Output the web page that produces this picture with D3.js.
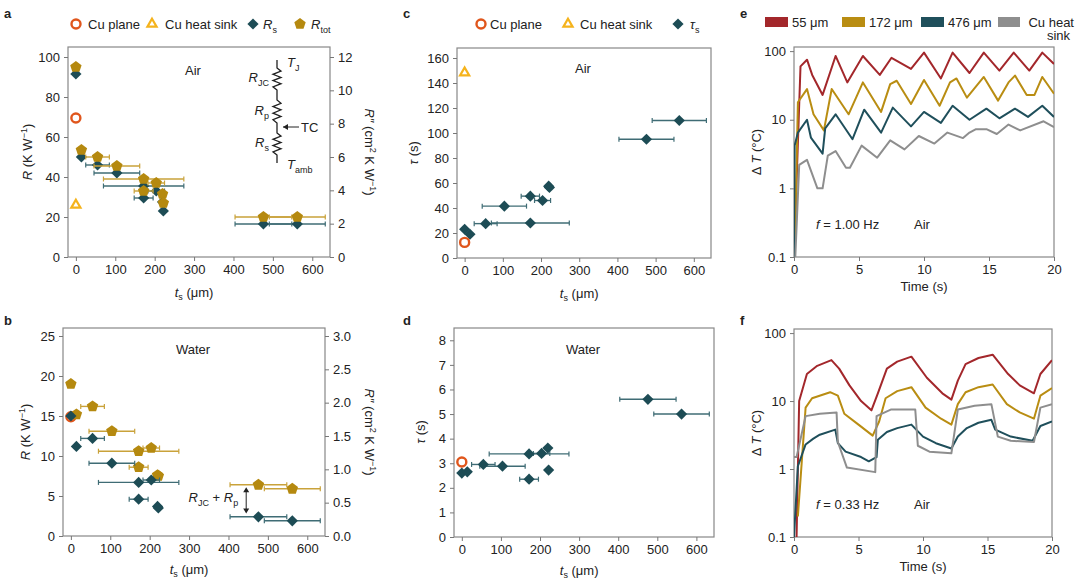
<!DOCTYPE html>
<html><head><meta charset="utf-8">
<script src="https://cdn.jsdelivr.net/npm/d3@7"></script>
<style>
body{margin:0;background:#fff;font-family:"Liberation Sans",Arial,sans-serif;}
text{font-family:"Liberation Sans",Arial,sans-serif;fill:#222;}
.axis text{font-size:13px;}
.axis path,.axis line{stroke:#777;}
</style></head>
<body><svg id="fig" width="1080" height="584"></svg>
<script>
// samples, same order in every scatter panel
const ts     = [0, 14, 55, 104, 172, 172, 204, 220, 222, 476, 562];
const tsErr  = [0, 0, 30, 58, 102, 24, 21, 0, 0, 72, 71];
const airRs  = [91.5, 50, 46, 42, 35.5, 29.5, 33, 27.5, 23, 16.5, 16.5];
const airRtot= [95, 53.5, 50, 45.5, 39, 33, 37, 31.5, 27, 20, 20];
const watRs  = [15, 11.2, 12.2, 9.1, 6.7, 4.6, 7, 3.7, 3.5, 2.4, 1.9];
const watRtot= [19, 15.2, 16.2, 13.1, 10.6, 8.6, 11, 7.6, 7.5, 6.4, 5.9];
const airTau = [23, 19, 27.5, 41.5, 28, 49.5, 46, 57.5, 56.5, 95, 110];
const watTau = [2.6, 2.65, 2.95, 2.88, 3.38, 2.35, 3.4, 3.62, 2.72, 5.6, 5.0];
const cuPlane = {airR: 69.5, watR: 14.9, airTau: 12.5, watTau: 3.05};
const cuSink  = {airR: 26.5, airTau: 149};

// transient curves [time s, dT °C]
const e55  = [[0,0.1],[0.5,60],[1,75],[1.4,45],[2.2,23],[3.2,85],[4.1,35],[5.3,85],[6.6,45],[7.5,80],[9,55],[10,95],[11.3,40],[12.2,95],[13.5,48],[14.6,95],[15.8,52],[16.9,95],[18.1,52],[19.1,95],[20,65]];
const e172 = [[0.05,0.1],[0.3,18],[1,28],[1.5,12],[2.3,7],[2.9,28],[4.2,12],[5.3,35],[6.7,13],[7.4,33],[7.9,37],[9,17],[10,38],[11.2,16],[12,35],[12.5,40],[13.3,21],[14.6,42],[15.7,19],[16.5,35],[17,44],[17.9,23],[18.5,23],[19.1,42],[20,24]];
const e476 = [[0,0.1],[0.05,4.2],[0.3,6.5],[1,10],[1.3,5.5],[2.2,3.2],[2.4,7.5],[3.2,12],[4.5,5.2],[5.4,14],[6.7,6.5],[7.6,15],[9,8],[10,13],[11.3,9],[12.2,16],[13.5,10],[14.8,14.5],[15.8,10.5],[17,14.5],[18,11],[19.1,16],[20,11]];
const eCu  = [[0.1,0.1],[0.4,2.2],[1,2.6],[1.8,1],[2.2,1],[2.6,3],[3.2,3.5],[4,2],[4.3,2],[5.2,4.2],[6.4,2.8],[7.4,5],[8.5,3.7],[9.6,5.8],[10.8,4.5],[11.8,6.5],[13,5.4],[13.5,6.5],[14,7.3],[14.8,7.3],[15.6,6.2],[16.5,8.5],[17.4,7],[19.2,9.5],[20,7.8]];
const f55  = [[0.2,0.1],[0.4,10],[1,25],[1.8,33],[2.9,40],[3.5,30],[4.3,17],[5.2,10],[6,7.3],[6.5,13],[7.2,30],[8,38],[9.1,45],[10.3,22],[11.5,13],[12.2,10.5],[12.7,20],[13.3,35],[14.3,43],[15.4,48],[16.6,25],[17.5,17],[18.6,13],[19.1,25],[20,40]];
const f172 = [[0.3,0.2],[0.9,8],[1.4,11],[2.8,13.5],[3.4,12],[3.9,6.5],[5,4.5],[6.1,3.1],[6.6,5],[7.1,11],[8,14],[9.1,16],[10.2,8],[11.4,5.5],[12.2,4.5],[12.7,9],[13.3,13.5],[14.3,16],[15.4,17.5],[16.5,9],[17.5,6.8],[18.6,5.5],[19.1,12],[20,15.5]];
const f476 = [[0,0.1],[0.3,1.1],[0.9,2.3],[1.5,2.8],[2,3.2],[3.2,3.8],[3.4,2.4],[4,1.8],[5.2,1.5],[5.8,1.3],[6.4,1.5],[6.5,2.7],[7.2,3.5],[8,4],[9.1,4.5],[10,3],[11,2.4],[12.2,2],[12.7,3],[13.4,4],[14.3,4.8],[15.3,5.3],[15.6,3.8],[16.8,3],[18.5,2.6],[19.1,4.3],[20,5]];
const fCu  = [[0,1.5],[0.2,1.5],[0.9,6],[2,6.5],[3.3,6.8],[3.4,2.5],[4.1,1.05],[6.3,0.9],[6.4,6],[7.5,7.5],[9.4,7.5],[9.6,2.2],[10.5,1.8],[12.2,1.7],[12.7,7.5],[14,8.5],[15.3,9],[15.8,3],[16.8,2.6],[18.6,2.5],[19.1,8],[20,9]];

const gold = "#b5890f", teal = "#1d4c55", goldBar = "#c9a23a", tealBar = "#3f6c75";
const orange = "#e0561c", yellow = "#f5b31c";
const lineCols = ["#a3272b", "#b98d12", "#1f4f5b", "#8e8e8e"];

const svg = d3.select("#fig");

function frame(g, w, h) {
  g.append("rect").attr("width", w).attr("height", h)
   .attr("fill", "none").attr("stroke", "#888").attr("stroke-width", 1.2);
}
function styleAxis(sel) { sel.selectAll("path.domain").remove(); sel.selectAll("line").attr("stroke", "#666"); }

function tsLabel(g, x, y) {
  const t = g.append("text").attr("x", x).attr("y", y).attr("text-anchor", "middle").style("font-size", "13px");
  t.append("tspan").attr("font-style", "italic").text("t");
  t.append("tspan").attr("dy", 3).style("font-size", "9px").text("s");
  t.append("tspan").attr("dy", -3).text(" (μm)");
}

function diamond(g, x, y, col) {
  g.append("path").attr("d", d3.symbol(d3.symbolDiamond2, 80)())
   .attr("transform", `translate(${x},${y})`).attr("fill", col);
}
function pentagon(g, x, y, col) {
  const r = 6;
  const pts = d3.range(5).map(i => { const a = -Math.PI/2 + i*2*Math.PI/5; return [x + r*Math.cos(a), y + r*Math.sin(a)]; });
  g.append("polygon").attr("points", pts.map(p => p.join(",")).join(" ")).attr("fill", col);
}
function ring(g, x, y) {
  g.append("circle").attr("cx", x).attr("cy", y).attr("r", 4.5).attr("fill", "none").attr("stroke", orange).attr("stroke-width", 2.4);
}
function tri(g, x, y) {
  g.append("path").attr("d", d3.symbol(d3.symbolTriangle2, 60)()).attr("transform", `translate(${x},${y+1})`)
   .attr("fill", "none").attr("stroke", yellow).attr("stroke-width", 2.2);
}
function errBar(g, x, ys, x0, x1, col) {
  g.append("line").attr("x1", x0).attr("x2", x1).attr("y1", ys).attr("y2", ys).attr("stroke", col).attr("stroke-width", 1.4);
  [x0, x1].forEach(xx => g.append("line").attr("x1", xx).attr("x2", xx).attr("y1", ys-2.5).attr("y2", ys+2.5).attr("stroke", col).attr("stroke-width", 1.2));
}

// generic scatter panel
function scatter(opt) {
  const g = svg.append("g").attr("transform", `translate(${opt.left},${opt.top})`);
  const w = opt.w, h = opt.h;
  const x = d3.scaleLinear().domain([-20, 645]).range([0, w]);
  const y = d3.scaleLinear().domain(opt.ydom).range([h, 0]);
  frame(g, w, h);
  g.append("g").attr("class", "axis").attr("transform", `translate(0,${h})`)
   .call(d3.axisBottom(x).tickValues(d3.range(0, 601, 100)).tickSize(4).tickPadding(4)).call(styleAxis);
  g.append("g").attr("class", "axis")
   .call(d3.axisLeft(y).tickValues(opt.yticks).tickSize(4).tickPadding(4).tickFormat(opt.yfmt || d3.format("d"))).call(styleAxis);
  if (opt.y2) {
    const y2 = d3.scaleLinear().domain(opt.ydom.map(v => v*0.12)).range([h, 0]);
    g.append("g").attr("class", "axis").attr("transform", `translate(${w},0)`)
     .call(d3.axisRight(y2).tickValues(opt.y2).tickSize(4).tickPadding(4).tickFormat(opt.y2fmt)).call(styleAxis);
  }
  tsLabel(g, x(300), h + opt.tsDy);
  g.append("text").attr("x", opt.envX).attr("y", opt.envY).attr("text-anchor", "middle").style("font-size", "13px").text(opt.env);
  return {g, x, y, w, h};
}

function seriesWithBars(p, vals, col, barCol, shape) {
  vals.forEach((v, i) => { if (tsErr[i]) errBar(p.g, p.x(ts[i]), p.y(v), p.x(ts[i]-tsErr[i]), p.x(ts[i]+tsErr[i]), barCol); });
  vals.forEach((v, i) => shape(p.g, p.x(ts[i]), p.y(v), col));
}

function rYLabel(g, x, y) {
  const t = g.append("text").attr("transform", `translate(${x},${y}) rotate(-90)`).attr("text-anchor", "middle").style("font-size", "13px");
  t.append("tspan").attr("font-style", "italic").text("R");
  t.append("tspan").text(" (K W");
  t.append("tspan").attr("dy", -5).style("font-size", "9px").text("−1");
  t.append("tspan").attr("dy", 5).text(")");
}
function r2YLabel(g, x, y) {
  const t = g.append("text").attr("transform", `translate(${x},${y}) rotate(90)`).attr("text-anchor", "middle").style("font-size", "13px");
  t.append("tspan").attr("font-style", "italic").text("R″");
  t.append("tspan").text(" (cm");
  t.append("tspan").attr("dy", -5).style("font-size", "9px").text("2");
  t.append("tspan").attr("dy", 5).text(" K W");
  t.append("tspan").attr("dy", -5).style("font-size", "9px").text("−1");
  t.append("tspan").attr("dy", 5).text(")");
}
function sub(g, x, y, main, s, italic, anchor) {
  const t = g.append("text").attr("x", x).attr("y", y).style("font-size", "13px").attr("text-anchor", anchor || "start");
  t.append("tspan").attr("font-style", italic === false ? "normal" : "italic").text(main);
  t.append("tspan").attr("dy", 4).style("font-size", "9px").text(s);
  return t;
}

// ---- panel a
const pa = scatter({left: 68, top: 47, w: 262, h: 210, ydom: [0, 105], yticks: d3.range(0, 101, 20),
  y2: d3.range(0, 13, 2), y2fmt: d3.format("d"), env: "Air", envX: 125, envY: 28, tsDy: 40});
seriesWithBars(pa, airRs, teal, tealBar, diamond);
seriesWithBars(pa, airRtot, gold, goldBar, pentagon);
ring(pa.g, pa.x(0), pa.y(cuPlane.airR));
tri(pa.g, pa.x(0), pa.y(cuSink.airR));
rYLabel(svg, 32, 152); r2YLabel(svg, 365, 152);

// circuit inset
(function () {
  const cx = 277 - 68, g = pa.g;
  function zig(y0, y1) {
    const n = 7, dy = (y1 - y0) / n;
    let d = `L${cx},${y0}`;
    for (let i = 1; i < n; i++) d += `L${cx + (i % 2 ? 4 : -4)},${y0 + i*dy}`;
    return d + `L${cx},${y1}`;
  }
  const d = `M${cx},13` + zig(21, 43) + zig(53, 76) + zig(86, 108) + `L${cx},116`;
  g.append("path").attr("d", d).attr("fill", "none").attr("stroke", "#222").attr("stroke-width", 1.3);
  g.append("path").attr("d", `M${cx+22},80L${cx+6},80`).attr("stroke", "#222").attr("stroke-width", 1);
  g.append("path").attr("d", `M${cx+6},80l5,-3l0,6z`).attr("fill", "#222");
  g.append("text").attr("x", cx + 24).attr("y", 85).style("font-size", "13px").text("TC");
  sub(g, cx + 10, 20, "T", "J");
  sub(g, cx - 8, 35, "R", "JC", true, "end");
  sub(g, cx - 8, 68, "R", "p", true, "end");
  sub(g, cx - 8, 100, "R", "s", true, "end");
  sub(g, cx + 10, 122, "T", "amb");
})();

// legend a
ring(svg, 76, 24); svg.append("text").attr("x", 88).attr("y", 29).style("font-size", "13px").text("Cu plane");
tri(svg, 152, 23); svg.append("text").attr("x", 165).attr("y", 29).style("font-size", "13px").text("Cu heat sink");
diamond(svg, 253, 24, teal); sub(svg, 263, 29, "R", "s");
pentagon(svg, 300, 24, gold); sub(svg, 311, 29, "R", "tot");

// ---- panel b
const pb = scatter({left: 63, top: 328, w: 262, h: 208, ydom: [0, 26], yticks: d3.range(0, 26, 5),
  y2: d3.range(0, 3.01, 0.5), y2fmt: d3.format(".1f"), env: "Water", envX: 130, envY: 26, tsDy: 38});
ring(pb.g, pb.x(0), pb.y(cuPlane.watR));
seriesWithBars(pb, watRtot, gold, goldBar, pentagon);
seriesWithBars(pb, watRs, teal, tealBar, diamond);
rYLabel(svg, 30, 432); r2YLabel(svg, 365, 432);
(function () {
  const g = pb.g, ax = pb.x(445), ya = pb.y(6.1), yb = pb.y(2.8);
  g.append("line").attr("x1", ax).attr("x2", ax).attr("y1", ya + 4).attr("y2", yb - 4).attr("stroke", "#222");
  g.append("path").attr("d", `M${ax},${ya}l-3,5l6,0z M${ax},${yb}l-3,-5l6,0z`).attr("fill", "#222");
  const t = sub(g, ax - 8, pb.y(4.3), "R", "JC", true, "end");
  t.append("tspan").attr("dy", -4).attr("font-style", "normal").style("font-size", "13px").text(" + ");
  t.append("tspan").attr("font-style", "italic").style("font-size", "13px").text("R");
  t.append("tspan").attr("dy", 4).style("font-size", "9px").text("p");
})();

function tauYLabel(x, y) {
  const t = svg.append("text").attr("transform", `translate(${x},${y}) rotate(-90)`).attr("text-anchor", "middle").style("font-size", "13px");
  t.append("tspan").attr("font-style", "italic").text("τ");
  t.append("tspan").text(" (s)");
}

// ---- panel c
const pc = scatter({left: 457, top: 48, w: 254, h: 210, ydom: [0, 168], yticks: d3.range(0, 161, 20),
  env: "Air", envX: 126, envY: 25, tsDy: 40});
seriesWithBars(pc, airTau, teal, tealBar, diamond);
ring(pc.g, pc.x(0), pc.y(cuPlane.airTau));
tri(pc.g, pc.x(0), pc.y(cuSink.airTau));
tauYLabel(418, 153);
ring(svg, 481, 24); svg.append("text").attr("x", 490).attr("y", 29).style("font-size", "13px").text("Cu plane");
tri(svg, 568, 23); svg.append("text").attr("x", 580).attr("y", 29).style("font-size", "13px").text("Cu heat sink");
diamond(svg, 678, 24, teal); sub(svg, 690, 29, "τ", "s");

// ---- panel d
const pd = scatter({left: 454, top: 328, w: 260, h: 209, ydom: [0, 8.5], yticks: d3.range(0, 9, 1),
  env: "Water", envX: 129, envY: 26, tsDy: 38});
seriesWithBars(pd, watTau, teal, tealBar, diamond);
ring(pd.g, pd.x(0), pd.y(cuPlane.watTau));
tauYLabel(425, 432);

// ---- transient panels
function transient(left, top, w, h, curves, label) {
  const g = svg.append("g").attr("transform", `translate(${left},${top})`);
  const x = d3.scaleLinear().domain([0, 20]).range([0, w]);
  const y = d3.scaleLog().domain([0.1, Math.pow(10, 2.06)]).range([h, 0]);
  frame(g, w, h);
  g.append("g").attr("class", "axis").attr("transform", `translate(0,${h})`)
   .call(d3.axisBottom(x).tickValues([0, 5, 10, 15, 20]).tickSize(4).tickPadding(4)).call(styleAxis);
  g.append("g").attr("class", "axis")
   .call(d3.axisLeft(y).tickValues([0.1, 1, 10, 100]).tickSize(4).tickPadding(4).tickFormat(d => d < 1 ? "0.1" : d)).call(styleAxis);
  const line = d3.line().x(d => x(d[0])).y(d => y(d[1]));
  const clip = "clip" + top;
  g.append("clipPath").attr("id", clip).append("rect").attr("width", w).attr("height", h);
  curves.forEach((c, i) => g.append("path").attr("d", line(c)).attr("clip-path", `url(#${clip})`)
    .attr("fill", "none").attr("stroke", lineCols[i]).attr("stroke-width", 2).attr("stroke-linejoin", "round"));
  g.append("text").attr("x", w/2).attr("y", h + 34).attr("text-anchor", "middle").style("font-size", "13px").text("Time (s)");
  const t = g.append("text").attr("x", 22).attr("y", h - 28).style("font-size", "13px");
  t.append("tspan").attr("font-style", "italic").text("f");
  t.append("tspan").text(" = " + label);
  g.append("text").attr("x", 120).attr("y", h - 28).style("font-size", "13px").text("Air");
  const yl = svg.append("text").attr("transform", `translate(${left - 33},${top + h/2}) rotate(-90)`).attr("text-anchor", "middle").style("font-size", "13px");
  yl.append("tspan").text("Δ ");
  yl.append("tspan").attr("font-style", "italic").text("T");
  yl.append("tspan").text(" (°C)");
}
transient(794, 47, 260, 210, [e55, e172, e476, eCu], "1.00 Hz");
transient(794, 329, 258, 208, [f55, f172, f476, fCu], "0.33 Hz");

// legend e
const legNames = ["55 μm", "172 μm", "476 μm"];
[765, 842, 921].forEach((lx, i) => {
  svg.append("rect").attr("x", lx).attr("y", 17).attr("width", 23).attr("height", 10).attr("fill", lineCols[i]);
  svg.append("text").attr("x", lx + 27).attr("y", 27).style("font-size", "13px").text(legNames[i]);
});
svg.append("rect").attr("x", 998).attr("y", 17).attr("width", 22).attr("height", 10).attr("fill", lineCols[3]);
svg.append("text").attr("x", 1074).attr("y", 27).attr("text-anchor", "end").style("font-size", "13px").text("Cu heat");
svg.append("text").attr("x", 1070).attr("y", 40).attr("text-anchor", "end").style("font-size", "13px").text("sink");

// panel letters
[["a", 4, 18], ["b", 4, 325], ["c", 403, 18], ["d", 403, 325], ["e", 740, 18], ["f", 740, 325]].forEach(l =>
  svg.append("text").attr("x", l[1]).attr("y", l[2]).style("font-size", "13px").style("font-weight", "bold").text(l[0]));
</script></body></html>
